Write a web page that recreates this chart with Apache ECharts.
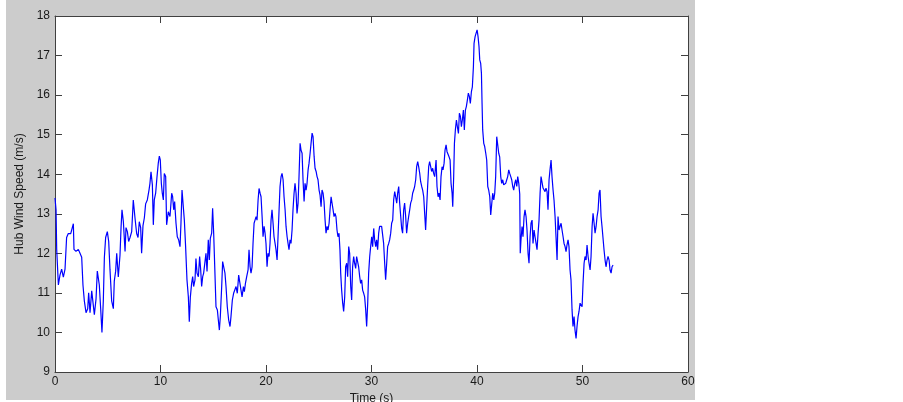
<!DOCTYPE html>
<html>
<head>
<meta charset="utf-8">
<script src="https://cdn.jsdelivr.net/npm/echarts@6/dist/echarts.min.js"></script>
<style>
  html, body { margin: 0; padding: 0; background: #ffffff; }
  #wrap { position: relative; width: 903px; height: 402px; overflow: hidden; }
  #fig { position: absolute; left: 6px; top: 0px; width: 689px; height: 400px; background: #cccccc; }
  #chart { position: absolute; left: 0; top: 0; width: 903px; height: 402px; }
</style>
</head>
<body>
<div id="wrap">
  <div id="fig"></div>
  <div id="chart"></div>
</div>
<script>
// Time (s) and hub wind speed (m/s)
const timeS = [
  0, 0.1, 0.16, 0.32, 0.47, 0.63, 0.79, 0.95, 1.1, 1.26, 1.49, 1.64, 1.74, 1.8, 1.99, 2.21, 2.37, 2.53, 2.65, 2.78,
  2.94, 3.1, 3.19, 3.32, 3.48, 3.63, 3.73, 3.89, 4.01, 4.2, 4.33, 4.45, 4.58, 4.68, 4.8, 4.96, 5.09, 5.21, 5.37, 5.53,
  5.62, 5.75, 5.85, 6.0, 6.16, 6.26, 6.35, 6.48, 6.64, 6.73, 6.86, 6.98, 7.11, 7.27, 7.42, 7.58, 7.74, 7.87, 7.99, 8.12,
  8.21, 8.34, 8.47, 8.59, 8.75, 8.91,
  9.0, 9.1, 9.23, 9.32, 9.41, 9.54, 9.67, 9.79, 9.89, 9.98, 10.08, 10.17, 10.27, 10.36, 10.49, 10.58, 10.74, 10.9, 11.06, 11.15,
  11.25, 11.34, 11.47, 11.59, 11.72, 11.85, 11.94, 12.04, 12.16, 12.26, 12.38, 12.51, 12.64, 12.73, 12.83, 12.95, 13.05, 13.14, 13.27, 13.36,
  13.46, 13.59, 13.71, 13.81, 13.9, 14.0, 14.09, 14.22, 14.31, 14.41, 14.53, 14.63, 14.72, 14.85, 14.94, 15.04, 15.16, 15.26, 15.39, 15.48,
  15.58, 15.67, 15.8, 15.89, 15.99, 16.11, 16.21, 16.33, 16.46, 16.59, 16.68, 16.81, 16.93, 17.06, 17.16, 17.28, 17.41,
  17.54, 17.63, 17.73, 17.86, 17.95, 18.05, 18.17, 18.30, 18.39, 18.49, 18.58, 18.68, 18.77, 18.87, 18.96, 19.06, 19.15, 19.25, 19.34, 19.44,
  19.53, 19.63, 19.72, 19.82, 19.91, 20.00, 20.10, 20.19, 20.29, 20.38, 20.48, 20.57, 20.67, 20.76, 20.86, 20.95, 21.05, 21.14, 21.24, 21.33,
  21.43, 21.52, 21.62, 21.71, 21.81, 21.90, 22.00, 22.09, 22.18, 22.28, 22.37, 22.47, 22.56, 22.66, 22.75, 22.85, 22.94, 23.04, 23.13, 23.23,
  23.32, 23.42, 23.51, 23.61, 23.70, 23.80, 23.89, 23.99, 24.08, 24.18, 24.27, 24.37, 24.46, 24.56, 24.65, 24.75, 24.84, 24.93, 25.03, 25.12,
  25.22, 25.31, 25.41, 25.50, 25.60, 25.69, 25.79, 25.88, 25.98, 26.07, 26.17, 26.26, 26.36, 26.45, 26.55,
  26.63, 26.73, 26.82, 26.92, 27.01, 27.08, 27.17, 27.27, 27.36, 27.46, 27.55, 27.65, 27.74, 27.84, 27.93, 28.03, 28.12, 28.21, 28.31, 28.40,
  28.50, 28.59, 28.69, 28.78, 28.88, 28.97, 29.07, 29.16, 29.26, 29.35, 29.45, 29.54, 29.64, 29.73, 29.83, 29.92, 30.02, 30.11, 30.21, 30.30,
  30.40, 30.49, 30.58, 30.68, 30.77, 30.87, 30.96, 31.06, 31.15, 31.25, 31.34, 31.44, 31.53, 31.63, 31.72, 31.82, 31.91, 32.01, 32.10, 32.20,
  32.29, 32.39, 32.48, 32.58, 32.67, 32.77, 32.86, 32.95, 33.05, 33.14, 33.24, 33.33, 33.43, 33.52, 33.62, 33.71, 33.81, 33.90, 34.00, 34.09,
  34.19, 34.28, 34.38, 34.47, 34.57, 34.66, 34.76, 34.85, 34.95, 35.04, 35.13, 35.23, 35.32, 35.42, 35.51, 35.61, 35.70, 35.80, 35.89, 35.99,
  36.02, 36.12, 36.21, 36.31, 36.40, 36.50, 36.59, 36.69, 36.78, 36.88, 36.97, 37.07, 37.16, 37.26, 37.35, 37.45, 37.54, 37.64, 37.70, 37.79,
  37.86, 37.95, 38.05, 38.14, 38.24, 38.33, 38.43, 38.52, 38.61, 38.71, 38.80, 38.90, 38.99, 39.09, 39.18, 39.28, 39.37, 39.47, 39.56, 39.66,
  39.72, 39.82, 39.91, 40.01, 40.10, 40.19, 40.26, 40.35, 40.42, 40.48, 40.54, 40.64, 40.73, 40.83, 40.92, 41.02, 41.11, 41.21, 41.30, 41.40,
  41.49, 41.59, 41.68, 41.77, 41.87, 41.96, 42.06, 42.15, 42.25, 42.34, 42.44, 42.53, 42.63, 42.72, 42.82, 42.91, 43.01, 43.10, 43.20, 43.29,
  43.39, 43.48, 43.58, 43.67, 43.77, 43.86, 43.96,
  44.05, 44.1, 44.17, 44.27, 44.36, 44.46, 44.55, 44.65, 44.74, 44.84, 44.93, 45.03, 45.12, 45.22, 45.31, 45.41, 45.5, 45.6, 45.69, 45.79,
  45.88, 45.98, 46.07, 46.17, 46.26, 46.35, 46.45, 46.54, 46.64, 46.73, 46.83, 46.92, 47.02, 47.11, 47.21, 47.3, 47.4, 47.49, 47.59, 47.68,
  47.78, 47.87, 47.97, 48.06, 48.16, 48.25, 48.35, 48.44, 48.53, 48.63, 48.72, 48.82, 48.91, 49.01, 49.1, 49.2, 49.29, 49.39, 49.48, 49.58,
  49.67, 49.77, 49.86, 49.96, 50.05, 50.15, 50.24, 50.34, 50.43, 50.53, 50.62, 50.72, 50.81, 50.91, 51.0, 51.1, 51.19, 51.29, 51.38, 51.48,
  51.57, 51.66, 51.76, 51.85, 51.95, 52.04, 52.14, 52.23, 52.33, 52.42, 52.52, 52.61, 52.71, 52.8, 52.9
];

const hubSpeed = [
  13.4, 13.1, 12.1, 11.2, 11.45, 11.6, 11.4, 11.6, 12.4, 12.5, 12.5, 12.55, 12.75, 12.1, 12.05, 12.1, 12.0, 11.9, 11.2, 10.8,
  10.5, 10.6, 11.0, 10.5, 11.05, 11.1, 10.45, 10.85, 11.55, 11.2, 10.6, 10.0, 10.8, 11.9, 12.4, 12.55, 12.3, 11.6, 10.8, 10.6,
  11.3, 11.55, 12.0, 11.4, 11.95, 12.65, 13.1, 12.8, 12.05, 12.65, 12.55, 12.3, 12.4, 12.55, 13.35, 12.9, 12.5, 12.4, 12.8, 12.65,
  12.0, 12.7, 12.9, 13.25, 13.35, 13.6,
  13.77, 14.06, 13.73, 12.72, 13.35, 13.52, 13.94, 14.28, 14.46, 14.36, 13.77, 13.52, 13.35, 14.02, 13.94, 12.72, 13.05, 12.93, 13.52, 13.43,
  13.1, 13.31, 12.76, 12.42, 12.34, 12.17, 12.76, 13.6, 13.18, 12.84, 12.17, 11.33, 10.9, 10.27, 10.9, 11.24, 11.41, 11.16, 11.33, 11.87,
  11.5, 11.41, 11.92, 11.58, 11.16, 11.41, 11.5, 11.54, 12.0, 11.54, 12.34, 11.83, 12.38, 12.51, 13.14, 12.51, 11.5, 10.65, 10.57, 10.32,
  10.06, 10.4, 11.16, 11.79, 11.66, 11.5, 11.16, 10.65, 10.32, 10.15, 10.4, 10.82, 10.99, 10.95, 11.16, 10.99, 11.45,
  11.41, 11.07, 10.9, 11.16, 11.03, 11.24, 11.41, 11.58, 12.09, 11.66, 11.5, 11.66, 12.25, 12.76, 12.84, 12.93, 12.84, 13.35, 13.64, 13.52,
  13.43, 12.93, 12.42, 12.68, 12.51, 12.25, 11.66, 12.0, 11.92, 12.25, 12.84, 13.1, 12.76, 12.42, 12.25, 12.09, 11.83, 12.42, 13.1, 13.69,
  13.94, 14.02, 13.86, 13.43, 13.1, 12.68, 12.42, 12.25, 12.09, 12.34, 12.25, 12.59, 13.1, 13.52, 13.77, 13.52, 13.01, 13.27, 13.94, 14.78,
  14.61, 14.53, 13.86, 13.31, 13.77, 13.6, 13.77, 14.11, 14.28, 14.53, 14.78, 15.04, 14.95, 14.45, 14.15, 14.07, 13.94, 13.86, 13.6, 13.48,
  13.18, 13.6, 13.52, 13.31, 12.84, 12.51, 12.68, 12.59, 12.76, 13.1, 13.43, 13.27, 13.1, 12.93, 13.01,
  12.93, 12.59, 12.42, 12.51, 12.09, 11.5, 11.07, 10.74, 10.53, 10.9, 11.66, 11.75, 11.41, 12.17, 12.0, 11.16, 10.82, 11.66, 11.92, 11.75,
  11.62, 11.92, 11.88, 11.66, 11.41, 11.24, 11.33, 11.07, 10.99, 10.9, 10.57, 10.15, 10.74, 11.5, 11.92, 12.17, 12.42, 12.17, 12.63, 12.34,
  12.17, 12.34, 12.09, 12.51, 12.68, 12.63, 12.68, 12.72, 12.25, 11.75, 11.33, 11.75, 12.17, 12.25, 12.34, 12.51, 12.76, 12.84, 13.35, 13.56,
  13.43, 13.27, 13.52, 13.69, 13.27, 12.93, 12.63, 12.51, 13.1, 13.27, 12.93, 12.51, 12.76, 12.93, 13.1, 13.27, 13.35, 13.52, 13.6, 13.69,
  13.86, 14.19, 14.32, 14.19, 14.02, 13.81, 13.69, 13.6, 13.43, 13.01, 12.59, 13.18, 13.69, 14.19, 14.32, 14.19, 14.07, 14.15, 14.02, 13.94,
  13.94, 14.36, 13.69, 13.43, 13.52, 13.35, 13.94, 14.19, 14.11, 14.28, 14.61, 14.74, 14.57, 14.61, 14.44, 14.36, 13.77, 13.52, 13.18, 13.94,
  14.78, 15.12, 15.37, 15.2, 15.03, 15.54, 15.46, 15.2, 15.37, 15.62, 15.12, 15.62, 15.71, 15.88, 16.05, 15.96, 15.79, 16.09, 16.21, 16.72,
  17.31, 17.48, 17.56, 17.65, 17.48, 17.23, 16.89, 16.8, 16.55, 15.79, 15.12, 14.78, 14.7, 14.53, 14.36, 13.69, 13.6, 13.43, 12.97, 13.26,
  13.52, 13.35, 13.52, 13.94, 14.95, 14.95, 14.53, 14.44, 13.94, 13.77, 13.86, 13.73, 13.69, 13.77, 13.86, 13.94, 14.11, 14.02, 13.94, 13.86,
  13.69, 13.6, 13.77, 13.86, 13.69, 13.94, 13.77,
  13.5, 12.0, 12.34, 12.68, 12.42, 12.93, 13.1, 12.93, 12.59, 12.0, 11.75, 12.42, 12.76, 12.84, 12.25, 12.59, 12.42, 12.25, 12.09, 12.51,
  12.84, 13.52, 13.94, 13.98, 13.65, 13.6, 13.56, 13.65, 13.56, 13.1, 13.86, 14.11, 14.36, 13.94, 13.6, 13.35, 12.93, 12.42, 11.83, 12.93,
  12.59, 12.68, 12.76, 12.59, 12.42, 12.25, 12.17, 12.04, 12.21, 12.34, 12.17, 11.58, 11.33, 10.57, 10.15, 10.4, 10.06, 9.85, 10.15, 10.4,
  10.53, 10.74, 10.78, 10.65, 11.24, 11.75, 11.92, 11.83, 12.21, 11.92, 11.75, 11.58, 11.92, 12.68, 13.01, 12.76, 12.51, 12.68, 12.93, 13.1,
  13.52, 13.6, 12.93, 12.68, 12.68, 12.09, 11.83, 11.66, 11.83, 11.92, 11.83, 11.58, 11.5, 11.66, 11.7
];

const xTicks = [0, 10, 20, 30, 40, 50, 60];
const yTicks = [9, 10, 11, 12, 13, 14, 15, 16, 17, 18];

const points = timeS.map((t, i) => [t, hubSpeed[i]]);

const FONT = "'Liberation Sans', Arial, sans-serif";
const AXIS_COLOR = '#404040';

const chart = echarts.init(document.getElementById('chart'), null, { renderer: 'canvas' });

const commonTick = { show: true, inside: true, length: 7, lineStyle: { color: AXIS_COLOR, width: 1 } };
const commonLine = { show: true, onZero: false, lineStyle: { color: AXIS_COLOR, width: 1 } };

chart.setOption({
  animation: false,
  backgroundColor: 'transparent',
  grid: {
    left: 55, top: 16, right: 215, bottom: 30,
    containLabel: false,
    outerBoundsMode: 'none',
    show: true, backgroundColor: '#ffffff', borderWidth: 0
  },
  xAxis: [
    {
      type: 'value', position: 'bottom',
      min: xTicks[0], max: xTicks[xTicks.length - 1], interval: 10,
      axisLine: commonLine, axisTick: commonTick, splitLine: { show: false },
      axisLabel: { show: true, color: '#1a1a1a', fontSize: 12, fontFamily: FONT, margin: 4 },
      name: 'Time (s)', nameLocation: 'middle', nameGap: 19,
      nameTextStyle: { color: '#1a1a1a', fontSize: 12, fontFamily: FONT }
    },
    {
      type: 'value', position: 'top',
      min: xTicks[0], max: xTicks[xTicks.length - 1], interval: 10,
      axisLine: commonLine, axisTick: commonTick, splitLine: { show: false },
      axisLabel: { show: false }
    }
  ],
  yAxis: [
    {
      type: 'value', position: 'left',
      min: yTicks[0], max: yTicks[yTicks.length - 1], interval: 1,
      axisLine: commonLine, axisTick: commonTick, splitLine: { show: false },
      axisLabel: { show: true, color: '#1a1a1a', fontSize: 12, fontFamily: FONT, margin: 5 },
      name: 'Hub Wind Speed (m/s)', nameLocation: 'middle', nameGap: 28,
      nameTextStyle: { color: '#1a1a1a', fontSize: 12, fontFamily: FONT }
    },
    {
      type: 'value', position: 'right',
      min: yTicks[0], max: yTicks[yTicks.length - 1], interval: 1,
      axisLine: commonLine, axisTick: commonTick, splitLine: { show: false },
      axisLabel: { show: false }
    }
  ],
  series: [
    {
      type: 'line',
      xAxisIndex: 0, yAxisIndex: 0,
      data: points,
      showSymbol: false,
      symbol: 'none',
      lineStyle: { color: '#0000ff', width: 1.2 },
      z: 3
    }
  ]
});
</script>
</body>
</html>
